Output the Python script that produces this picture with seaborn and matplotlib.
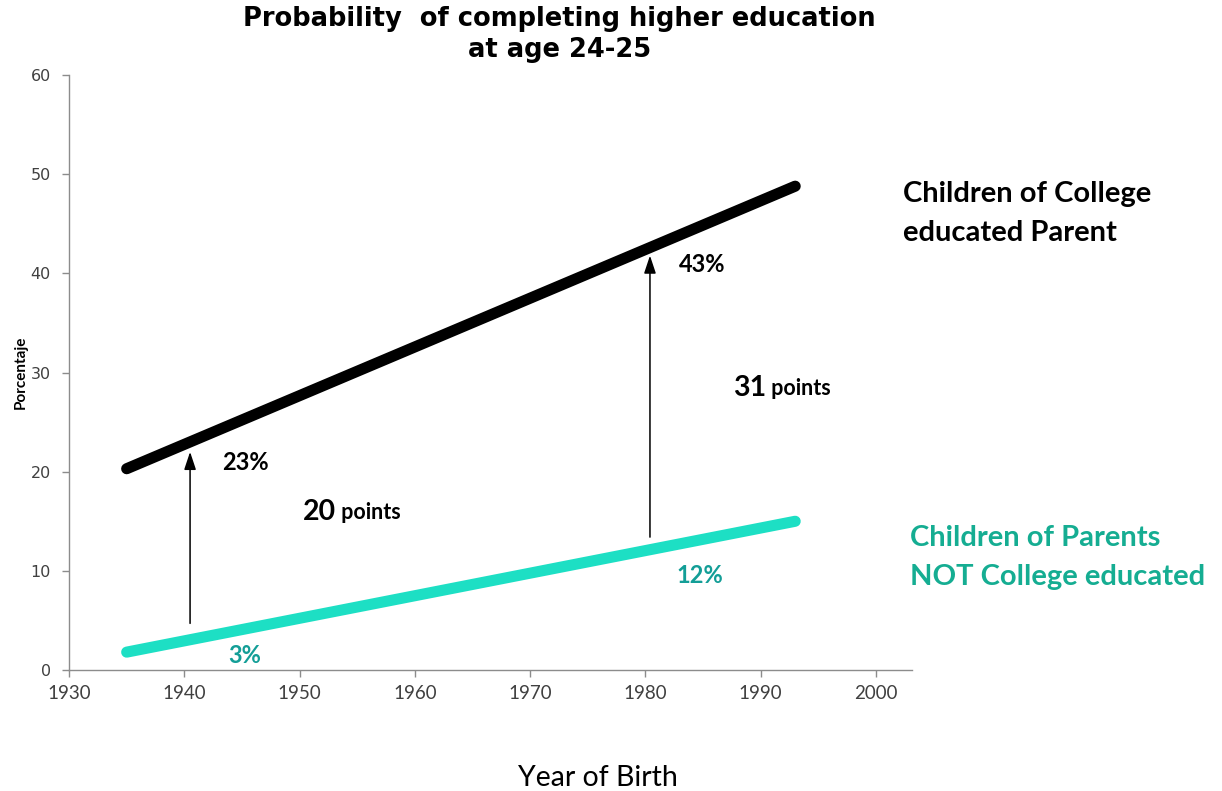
import matplotlib
matplotlib.use("Agg")
import matplotlib.pyplot as plt
import seaborn as sns
import pandas as pd

sns.set_theme(style="white")
plt.rcParams["font.family"] = ["DejaVu Sans"]

# Birth-year endpoints of each trend and the completion rate (%)
years = [1935, 1993]
college_parent = [20.3, 48.8]
non_college_parent = [1.8, 15.0]

# Gap arrows: birth year, lower and upper value
gap_years = [1940.5, 1980.4]
gap_low = [4.7, 13.4]
gap_high = [22.0, 41.8]

# Point labels
college_labels = ["23%", "43%"]
college_label_pos = [(1945.3, 20.9), (1984.9, 40.9)]
non_college_labels = ["3%", "12%"]
non_college_label_pos = [(1945.2, 1.5), (1984.7, 9.5)]
gap_values = ["20", "31"]
gap_label_pos = [(1950.3, 15.9), (1987.6, 28.4)]

xticks = [1930, 1940, 1950, 1960, 1970, 1980, 1990, 2000]
yticks = [0, 10, 20, 30, 40, 50, 60]

BLACK = "#000000"
TEAL_LINE = "#1ddfc4"
TEAL_TEXT = "#139e97"
TEAL_LABEL = "#15ad92"
LABEL_FONT = ["Lato", "DejaVu Sans"]

df = pd.concat([
    pd.DataFrame({"year": years, "value": college_parent, "group": "college"}),
    pd.DataFrame({"year": years, "value": non_college_parent, "group": "non"}),
])

fig = plt.figure(figsize=(12.22, 7.91), dpi=100)
ax = fig.add_axes([0.0565, 0.153, 0.6895, 0.752])

sns.lineplot(data=df, x="year", y="value", hue="group",
             palette={"college": BLACK, "non": TEAL_LINE},
             linewidth=8, legend=False, ax=ax)
for line in ax.lines:
    line.set_solid_capstyle("round")

for x, lo, hi in zip(gap_years, gap_low, gap_high):
    ax.annotate("", xy=(x, hi), xytext=(x, lo),
                arrowprops=dict(arrowstyle="-|>,head_length=0.9,head_width=0.3",
                                color="#555555", lw=1.1, fc="black", ec="black",
                                shrinkA=0, shrinkB=0))

for txt, (x, y) in zip(college_labels, college_label_pos):
    ax.text(x, y, txt, ha="center", va="center", fontsize=17,
            fontweight="bold", color=BLACK, family=LABEL_FONT)
for txt, (x, y) in zip(non_college_labels, non_college_label_pos):
    ax.text(x, y, txt, ha="center", va="center", fontsize=17,
            fontweight="bold", color=TEAL_TEXT, family=LABEL_FONT)
for val, (x, y) in zip(gap_values, gap_label_pos):
    t = ax.text(x, y, val, ha="left", va="center", fontsize=20.5,
                fontweight="bold", color=BLACK, family=LABEL_FONT)
    ax.annotate(" points", xycoords=t, xy=(1, 0.5), va="center", ha="left",
                fontsize=15.5, fontweight="bold", color=BLACK, family=LABEL_FONT)

ax.set_xlim(1930, 2003.1)
ax.set_ylim(0, 60)
ax.set_xticks(xticks)
ax.set_yticks(yticks)
ax.set_xlabel("")
ax.set_ylabel("Porcentaje", fontsize=11, fontweight="bold", color=BLACK,
              family=LABEL_FONT)
ax.yaxis.set_label_coords(-0.049, 0.5)

for side in ["top", "right"]:
    ax.spines[side].set_visible(False)
for side in ["left", "bottom"]:
    ax.spines[side].set_color("#8c8c8c")
    ax.spines[side].set_linewidth(1.0)
ax.tick_params(axis="both", direction="out", length=5, width=1, color="#8c8c8c",
               left=True, bottom=True)
ax.tick_params(axis="y", labelsize=11.5, labelcolor="#404040", pad=8)
ax.tick_params(axis="x", labelsize=13.5, labelcolor="#404040", pad=6)
for lbl in ax.get_xticklabels():
    lbl.set_family(["Liberation Sans Narrow", "Lato", "DejaVu Sans"])

fig.text(0.458, 0.992, "Probability  of completing higher education\nat age 24-25",
         ha="center", va="top", fontsize=18.5, fontweight="bold", color=BLACK,
         linespacing=1.25)

fig.text(0.739, 1 - 213.5 / 791, "Children of College\neducated Parent",
         ha="left", va="center", fontsize=21, fontweight="bold", color=BLACK,
         family=LABEL_FONT, linespacing=1.62)
fig.text(0.745, 1 - 557.5 / 791, "Children of Parents\nNOT College educated",
         ha="left", va="center", fontsize=21, fontweight="bold", color=TEAL_LABEL,
         family=LABEL_FONT, linespacing=1.62)

fig.text(598 / 1222, 1 - 778 / 791, "Year of Birth", ha="center", va="center",
         fontsize=20.5, color=BLACK, family=LABEL_FONT)

fig.savefig("out.png", dpi=100, facecolor="white")
